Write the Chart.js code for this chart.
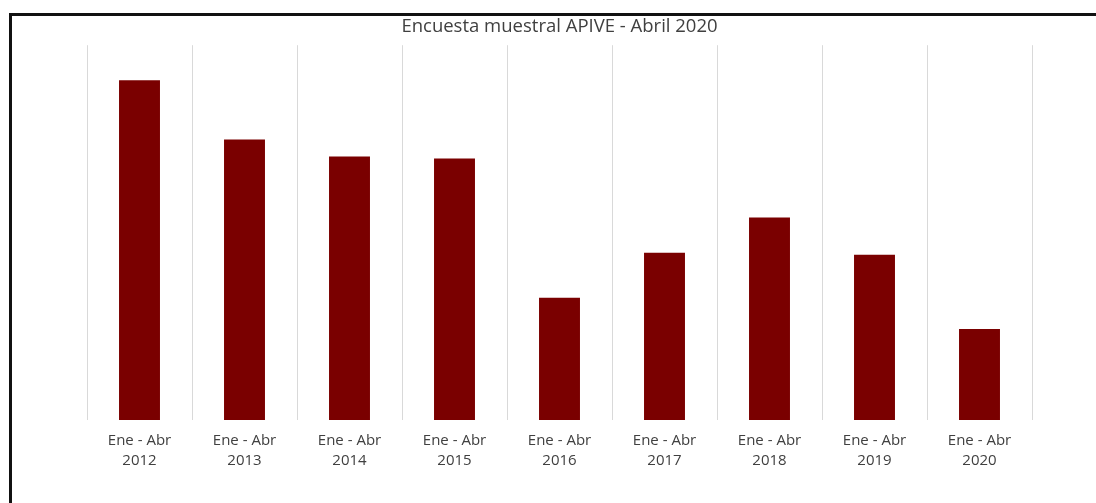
<!DOCTYPE html>
<html>
<head>
<meta charset="utf-8">
<script src="https://cdn.jsdelivr.net/npm/chart.js@4/dist/chart.umd.min.js"></script>
<style>
  html, body { margin: 0; padding: 0; background: #fff; }
  #wrap { position: relative; width: 1096px; height: 503px; }
  #frame {
    position: absolute; left: 9px; top: 13px; right: 0; bottom: 0;
    border-top: 3px solid #111; border-left: 3px solid #111;
    pointer-events: none;
  }
</style>
</head>
<body>
<div id="wrap">
  <canvas id="myChart" width="1096" height="503"></canvas>
  <div id="frame"></div>
</div>
<script>
var chartTitle = "Encuesta muestral APIVE - Abril 2020";
var periodos = ["Ene - Abr", "Ene - Abr", "Ene - Abr", "Ene - Abr", "Ene - Abr", "Ene - Abr", "Ene - Abr", "Ene - Abr", "Ene - Abr"];
var anios = ["2012", "2013", "2014", "2015", "2016", "2017", "2018", "2019", "2020"];
// ventas estimadas, leidas de la altura de las barras
var ventas = [339, 280, 263, 261, 122, 167, 202, 165, 91];

var labels = periodos.map(function(p, i) { return [p, anios[i]]; });

var ctx = document.getElementById("myChart").getContext('2d');

var myChart = new Chart(ctx, {
    type: 'bar',
    data: {
        labels: labels,
        datasets: [{
            data: ventas,
            backgroundColor: '#7a0000',
            categoryPercentage: 1,
            barPercentage: 0.39
        }]
    },
    options: {
        responsive: false,
        animation: false,
        layout: {
            padding: { left: 87, right: 64, top: 0, bottom: 21 }
        },
        plugins: {
            legend: { display: false },
            tooltip: { enabled: false },
            title: {
                display: true,
                text: chartTitle,
                color: '#404040',
                font: { family: 'Open Sans', size: 18.5, weight: 'normal', lineHeight: 1.2 },
                padding: { top: 16, bottom: 7 }
            }
        },
        scales: {
            x: {
                grid: {
                    display: true,
                    offset: true,
                    color: '#d9d9d9',
                    lineWidth: 1,
                    drawTicks: false
                },
                border: { display: false },
                ticks: {
                    color: '#404040',
                    padding: 11,
                    maxRotation: 0,
                    font: { family: 'Open Sans', size: 15, lineHeight: 1.33 }
                }
            },
            y: {
                display: false,
                min: 0,
                max: 374
            }
        }
    }
});
</script>
</body>
</html>
